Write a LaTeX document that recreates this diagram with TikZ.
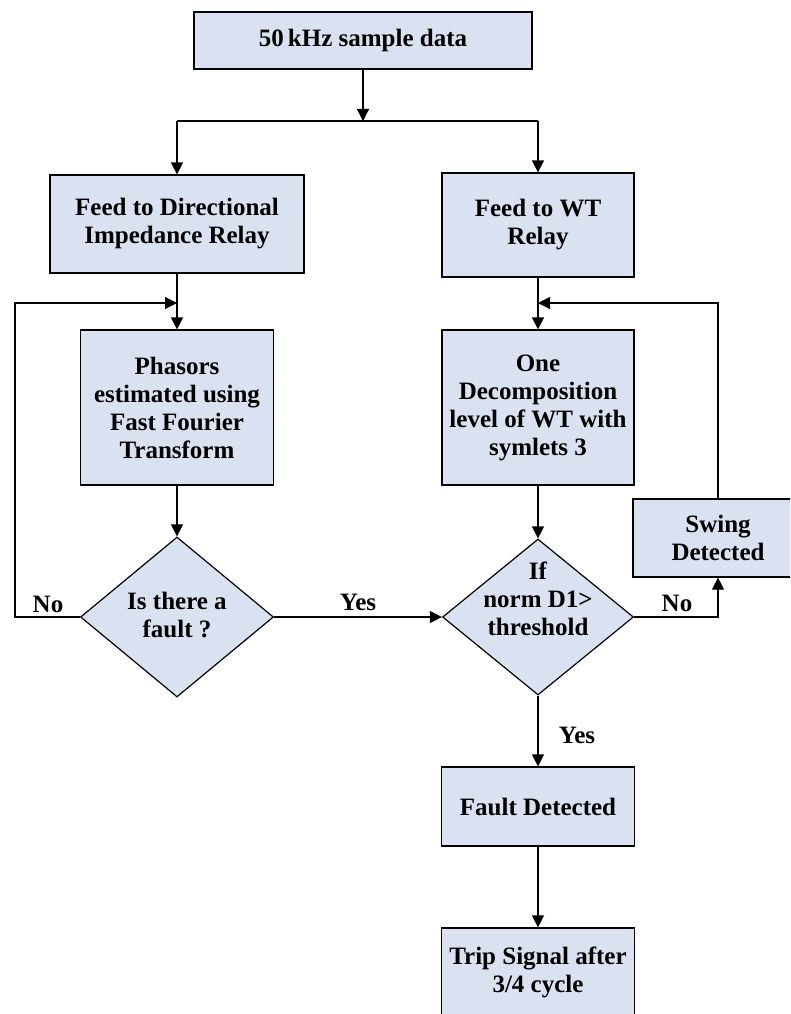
\documentclass[tikz,border=0pt]{standalone}
\usepackage{fontspec}
\setmainfont{Liberation Serif}
\usetikzlibrary{calc}
\usetikzlibrary{arrows.meta}
\usetikzlibrary{shapes.geometric}
\definecolor{boxfill}{RGB}{218,225,240}

\begin{document}
\begin{tikzpicture}[x=1pt, y=-1pt,
  font=\fontsize{25}{28}\selectfont\bfseries,
  blk/.style={draw, fill=boxfill, line width=1.2pt, align=center, inner sep=0pt},
  decision/.style={draw, fill=boxfill, diamond, line width=1.2pt, inner sep=0pt},
  lbl/.style={align=center, inner sep=0pt},
  link/.style={line width=1.2pt, -{Triangle[length=12pt, width=12pt]}},
  wire/.style={line width=1.2pt}]
  % page frame
  \useasboundingbox (0,0) rectangle (790,1014);
  \clip (0,0) rectangle (790,1014);
  % boxes
  \node[blk, minimum width=338pt, minimum height=57pt] (src) at (363,40.5) {50\,kHz sample data};
  \node[blk, minimum width=254pt, minimum height=98pt] (dir) at (177,224) {Feed to Directional\\Impedance Relay};
  \node[blk, minimum width=192pt, minimum height=104pt] (wtf) at (538,225) {Feed to WT\\Relay};
  \node[blk, minimum width=193pt, minimum height=155pt] (fft) at (177,407.5) {Phasors\\estimated using\\Fast Fourier\\Transform};
  \node[blk, minimum width=192pt, minimum height=155pt] (dec) at (538,407.5) {One\\Decomposition\\level of WT with\\symlets 3};
  \node[blk, minimum width=170pt, minimum height=78pt] (swing) at (718,538) {Swing\\Detected};
  \node[blk, minimum width=193pt, minimum height=79pt] (fault) at (538,806.5) {Fault Detected};
  \node[blk, minimum width=193pt, minimum height=88pt] (trip) at (538,972) {Trip Signal after\\3/4 cycle};
  % decisions
  \node[decision, minimum width=193pt, minimum height=160pt] (q1) at (177,617) {};
  \node[lbl] (q1t) at (177,615) {Is there a\\fault ?};
  \node[decision, minimum width=191pt, minimum height=156pt] (q2) at (538,617) {};
  \node[lbl] (q2t) at (538,599) {If\\norm D1>\\threshold};
  % join points
  \coordinate (split) at (363,121);
  \coordinate (ljoin) at (177,303);
  \coordinate (rjoin) at (538,303);
  \coordinate (lcor) at (15,617);
  \coordinate (ltop) at (15,303);
  % connectors
  \draw[link] (src) -- (split);
  \draw[wire] (dir.north |- split) -- (wtf.north |- split);
  \draw[link] (dir.north |- split) -- (dir.north);
  \draw[link] (wtf.north |- split) -- (wtf.north);
  \draw[link] (dir.south) -- (fft.north);
  \draw[link] (wtf.south) -- (dec.north);
  \draw[link] (fft.south) -- (q1.north);
  \draw[link] (dec.south) -- (q2.north);
  \draw[link] (q1.west) -- (lcor) -- (ltop) -- (ljoin);
  \draw[link] (q1.east) -- (q2.west);
  \draw[link] (q2.east) -- (swing.south |- q2.east) -- (swing.south);
  \draw[link] (swing.north) -- (swing.north |- rjoin) -- (rjoin);
  \draw[link] (q2.south) -- (fault.north);
  \draw[link] (fault.south) -- (trip.north);
  % labels
  \node[lbl] (noL) at (48,604) {No};
  \node[lbl] (yesM) at (358,602) {Yes};
  \node[lbl] (noR) at (677,603) {No};
  \node[lbl] (yesB) at (577,735) {Yes};
\end{tikzpicture}
\end{document}
